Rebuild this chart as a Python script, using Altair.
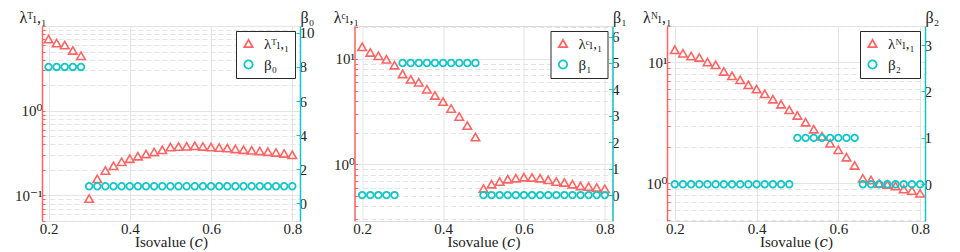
import altair as alt
import pandas as pd

# ---------------- data ----------------
X = [0.20, 0.22, 0.24, 0.26, 0.28, 0.30, 0.32, 0.34, 0.36, 0.38, 0.40,
     0.42, 0.44, 0.46, 0.48, 0.50, 0.52, 0.54, 0.56, 0.58, 0.60,
     0.62, 0.64, 0.66, 0.68, 0.70, 0.72, 0.74, 0.76, 0.78, 0.80]

LAM_T = [7.0, 6.3, 5.95, 5.15, 4.45,
         0.092, 0.157, 0.197, 0.224, 0.25, 0.272, 0.291, 0.309, 0.326, 0.346,
         0.372, 0.378, 0.38, 0.385, 0.379, 0.372, 0.367, 0.362, 0.354, 0.347,
         0.341, 0.335, 0.329, 0.322, 0.313, 0.302]
BETA_0 = [8, 8, 8, 8, 8,
          1, 1, 1, 1, 1, 1, 1, 1, 1, 1, 1, 1, 1, 1, 1, 1, 1, 1, 1, 1, 1, 1, 1, 1, 1, 1]

LAM_C = [13.0, 11.5, 10.7, 9.9, 8.7, 7.2, 6.4, 6.0, 5.15, 4.5, 3.93, 3.38, 2.84, 2.33, 1.81,
         0.59, 0.648, 0.687, 0.723, 0.738, 0.755, 0.75, 0.738, 0.712, 0.687, 0.673,
         0.648, 0.624, 0.616, 0.603, 0.585]
BETA_1 = [0, 0, 0, 0, 0,
          5, 5, 5, 5, 5, 5, 5, 5, 5, 5,
          0, 0, 0, 0, 0, 0, 0, 0, 0, 0, 0, 0, 0, 0, 0, 0]

LAM_N = [12.7, 11.9, 11.3, 11.0, 10.06, 9.55, 8.43, 7.75, 7.18, 6.53, 6.02, 5.5, 4.97, 4.52, 4.06,
         3.65, 3.21, 2.81, 2.45, 2.15, 1.9, 1.65, 1.41,
         1.106, 1.07, 1.0, 0.98, 0.955, 0.90, 0.875, 0.83]
BETA_2 = [0, 0, 0, 0, 0, 0, 0, 0, 0, 0, 0, 0, 0, 0, 0,
          1, 1, 1, 1, 1, 1, 1, 1,
          0, 0, 0, 0, 0, 0, 0, 0]

LAM_NAMES = ["λᵀₗ,₁", "λᶜₗ,₁", "λᴺₗ,₁"]
BETA_NAMES = ["β₀", "β₁", "β₂"]
X_TICKS = [0.2, 0.4, 0.6, 0.8]
X_TITLE = "Isovalue (𝑐)"

LOG_TICKS_1 = [0.05, 0.06, 0.07, 0.08, 0.09, 0.1, 0.2, 0.3, 0.4, 0.5, 0.6, 0.7, 0.8, 0.9,
               1, 2, 3, 4, 5, 6, 7, 8, 9, 10]
LOG_TICKS_2 = [0.3, 0.4, 0.5, 0.6, 0.7, 0.8, 0.9, 1, 2, 3, 4, 5, 6, 7, 8, 9, 10, 20]
LOG_TICKS_3 = [0.5, 0.6, 0.7, 0.8, 0.9, 1, 2, 3, 4, 5, 6, 7, 8, 9, 10, 20]
MAJOR_LABELS_1 = [(0.1, "10⁻¹"), (1, "10⁰")]
MAJOR_LABELS_23 = [(1, "10⁰"), (10, "10¹")]
BETA_TICKS_1 = [0, 2, 4, 6, 8, 10]
BETA_TICKS_2 = [0, 1, 2, 3, 4, 5, 6]
BETA_TICKS_3 = [0, 1, 2, 3]

# ---------------- style ----------------
RED = "#FF6464"
CYAN = "#13C6C6"
FONT = "Liberation Serif, DejaVu Serif, serif"
GRID = "#E4E4E4"
W, H = 258, 195

MAJOR_TEST = "abs(log(datum.value)/LN10 - round(log(datum.value)/LN10)) < 1e-6"


def label_expr(pairs):
    s = "''"
    for v, t in reversed(pairs):
        s = f"abs(datum.value - {v}) < 1e-9 ? '{t}' : ({s})"
    return s


def panel(lam, beta, lam_name, beta_name, lam_dom, beta_dom, log_ticks, majors,
          beta_ticks, x_dom):
    df_l = pd.DataFrame({"x": X, "v": lam, "series": lam_name})
    df_b = pd.DataFrame({"x": X, "v": beta, "series": beta_name})
    legend = alt.Legend(
        title=None, orient="top-right", offset=5, padding=5,
        strokeColor="#2a2a2a", fillColor="white",
        labelFont=FONT, labelFontSize=15, labelColor="#222",
        symbolSize=70, symbolStrokeWidth=1.8, rowPadding=4, labelOffset=8,
    )
    color = alt.Color("series:N", scale=alt.Scale(domain=[lam_name, beta_name],
                                                  range=[RED, CYAN]), legend=legend)
    shape = alt.Shape("series:N", scale=alt.Scale(domain=[lam_name, beta_name],
                                                  range=["triangle-up", "circle"]), legend=legend)
    xenc = alt.X("x:Q", scale=alt.Scale(domain=x_dom, nice=False, zero=False),
                 axis=alt.Axis(values=X_TICKS, format=".1f", title=X_TITLE,
                               grid=True, gridColor=GRID, gridWidth=1,
                               domain=False, ticks=False, tickSize=0, labelPadding=0,
                               labelFont=FONT, labelFontSize=15, labelColor="#222",
                               titleFont=FONT, titleFontSize=15, titleFontWeight="normal",
                               titleColor="#222", titlePadding=-2))
    lam_layer = alt.Chart(df_l).mark_point(filled=False, size=72, strokeWidth=1.6, opacity=1).encode(
        x=xenc,
        y=alt.Y("v:Q", scale=alt.Scale(type="log", domain=lam_dom, nice=False),
                axis=alt.Axis(orient="left", values=log_ticks, labelExpr=label_expr(majors),
                              grid=True, gridColor=GRID,
                              gridDash={"condition": {"test": MAJOR_TEST, "value": []},
                                        "value": [5, 3]},
                              domainColor=RED, domainWidth=1.5, tickColor=RED,
                              tickSize={"expr": "-3"}, tickWidth=1,
                              labelFont=FONT, labelFontSize=15, labelColor="#222",
                              labelPadding=3, labelFlush=False, labelOverlap=False,
                              title=lam_name, titleAngle=0, titleAlign="right",
                              titleBaseline="alphabetic", titleX=4, titleY=-4,
                              titleFont=FONT, titleFontSize=16, titleFontWeight="normal",
                              titleColor="#222")),
        color=color, shape=shape,
    )
    beta_layer = alt.Chart(df_b).mark_point(filled=False, size=44, strokeWidth=1.8, opacity=1).encode(
        x=xenc,
        y=alt.Y("v:Q", scale=alt.Scale(domain=beta_dom, nice=False, zero=False),
                axis=alt.Axis(orient="right", values=beta_ticks, format="d", grid=False,
                              domainColor=CYAN, domainWidth=1.5, tickColor=CYAN,
                              tickSize={"expr": "-4"}, tickWidth=1,
                              labelFont=FONT, labelFontSize=15, labelColor="#222",
                              labelPadding=3, labelFlush=False,
                              title=beta_name, titleAngle=0, titleAlign="left",
                              titleBaseline="alphabetic", titleX=0, titleY=-4,
                              titleFont=FONT, titleFontSize=16, titleFontWeight="normal",
                              titleColor="#222")),
        color=color, shape=shape,
    )
    return alt.layer(lam_layer, beta_layer).resolve_scale(y="independent").properties(
        width=W, height=H)


p1 = panel(LAM_T, BETA_0, LAM_NAMES[0], BETA_NAMES[0], [0.05, 10], [-1.04, 10.4],
           LOG_TICKS_1, MAJOR_LABELS_1, BETA_TICKS_1, [0.184, 0.819])
p2 = panel(LAM_C, BETA_1, LAM_NAMES[1], BETA_NAMES[1], [0.29, 20.5], [-0.98, 6.4],
           LOG_TICKS_2, MAJOR_LABELS_23, BETA_TICKS_2, [0.181, 0.819])
p3 = panel(LAM_N, BETA_2, LAM_NAMES[2], BETA_NAMES[2], [0.49, 20], [-0.79, 3.41],
           LOG_TICKS_3, MAJOR_LABELS_23, BETA_TICKS_3, [0.181, 0.812])

chart = alt.hconcat(p1, p2, p3, spacing=54.5, bounds="flush").resolve_scale(
    color="independent", shape="independent"
).properties(
    padding={"left": 6, "top": 0, "right": 0, "bottom": 0}
).configure_view(stroke=None).configure_legend(strokeWidth=1.5).configure(background="white")

chart.save("out.html", embed_options={"renderer": "svg", "actions": False})
